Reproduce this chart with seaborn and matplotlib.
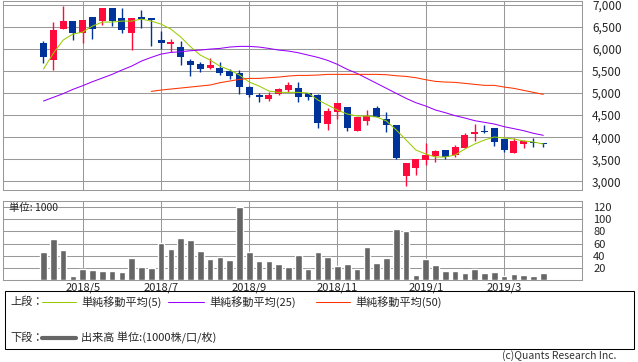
import numpy as np
import pandas as pd
import matplotlib
matplotlib.use("Agg")
import matplotlib.pyplot as plt
import seaborn as sns
from matplotlib.patches import Rectangle
from matplotlib.lines import Line2D

# ---------------- data (weekly) ----------------
weeks = pd.date_range("2018-04-09", periods=52, freq="W-MON")
open_ = [6132, 5755, 6457, 6630, 6358, 6721, 6630, 6925, 6698, 6358,
         6721, 6698, 6200, 6109, 6042, 5725, 5657, 5566, 5566, 5498,
         5453, 5136, 4955, 4864, 4977, 5068, 5113, 5000, 4955, 4298,
         4570, 4683, 4140, 4366, 4660, 4411, 4275, 3121, 3302, 3483,
         3574, 3709, 3596, 3755, 4072, 4140, 4208, 3959, 3642, 3845,
         3891, 3868]
high = [6177, 6608, 6977, 6630, 6653, 6721, 6925, 6925, 6925, 6698,
        6879, 6698, 6404, 6223, 6177, 5770, 5702, 5792, 5702, 5543,
        5521, 5159, 5000, 5023, 5113, 5249, 5249, 5000, 4977, 4660,
        4774, 4683, 4457, 4615, 4706, 4570, 4275, 3415, 3506, 3868,
        3709, 3709, 3823, 4094, 4298, 4275, 4208, 3959, 3981, 3936,
        3981, 3868]
low = [5679, 5528, 6457, 6208, 6132, 6223, 6540, 6517, 6358, 5974,
       6472, 6064, 5989, 5928, 5634, 5385, 5475, 5543, 5413, 5317,
       4983, 4910, 4789, 4819, 4955, 5023, 4796, 4842, 4208, 4162,
       4411, 4140, 4140, 4275, 4457, 4117, 3506, 2894, 3143, 3370,
       3438, 3506, 3551, 3755, 3913, 4102, 3800, 3664, 3642, 3755,
       3777, 3777]
close = [5815, 6426, 6630, 6358, 6653, 6449, 6925, 6638, 6426, 6698,
         6675, 6653, 6132, 6155, 5815, 5634, 5543, 5634, 5453, 5385,
         5136, 4955, 4910, 4955, 5091, 5181, 4910, 4910, 4321, 4593,
         4774, 4208, 4457, 4479, 4457, 4275, 3528, 3415, 3506, 3596,
         3687, 3551, 3777, 4049, 4117, 4117, 3891, 3709, 3913, 3913,
         3868, 3845]
volume = [46, 67, 49, 6.6, 18, 16.4, 14.8, 14.8, 13, 36,
          21, 20, 61, 51, 69, 66, 48, 34.5, 38, 33,
          120, 46, 31, 31, 26, 21, 41, 18, 46, 38,
          23, 26, 18, 54, 28, 36, 84, 80.5, 8, 34.5,
          25, 15, 15, 11.5, 18, 11.5, 13, 6.6, 10, 8,
          6.6, 11.5]
ma5 = [5543, 5898, 6200, 6336, 6381, 6517, 6608, 6608, 6630, 6630,
       6675, 6630, 6562, 6449, 6270, 6050, 5860, 5747, 5611, 5521,
       5408, 5249, 5159, 5045, 5015, 5015, 5015, 5000, 4842, 4728,
       4615, 4525, 4479, 4479, 4457, 4366, 4162, 3936, 3709, 3619,
       3551, 3551, 3596, 3732, 3845, 3936, 4004, 3981, 3959, 3913,
       3891, 3845]
ma25 = [4819, 4902, 4985, 5083, 5166, 5257, 5340, 5423, 5521, 5611,
        5725, 5808, 5883, 5921, 5936, 5959, 5974, 5996, 6011, 6042,
        6057, 6057, 6042, 6011, 5974, 5951, 5913, 5860, 5808, 5740,
        5649, 5536, 5445, 5332, 5219, 5106, 4992, 4879, 4781, 4706,
        4615, 4555, 4487, 4434, 4374, 4336, 4298, 4238, 4193, 4147,
        4087, 4042]
ma50_weeks = weeks[11:]
ma50 = [5038, 5068, 5091, 5113, 5136, 5159, 5181, 5234, 5272, 5309,
        5332, 5332, 5347, 5362, 5385, 5400, 5400, 5408, 5423, 5423,
        5423, 5423, 5423, 5423, 5415, 5392, 5377, 5347, 5302, 5264,
        5249, 5242, 5219, 5196, 5174, 5174, 5136, 5106, 5060, 5015,
        4970]
tick_labels = ["2018/5", "2018/7", "2018/9", "2018/11", "2019/1", "2019/3"]
price_ticks = [3000, 3500, 4000, 4500, 5000, 5500, 6000, 6500, 7000]
vol_ticks = [20, 40, 60, 80, 100, 120]

# ---------------- style ----------------
sns.set_style("white")
plt.rcParams["font.family"] = ["Noto Sans CJK JP", "DejaVu Sans"]

UP, DOWN = "#FF0A3C", "#003399"
C5, C25, C50 = "#99CC00", "#9900FF", "#FF3300"
GRID = "#999999"
LW = 0.75

W, H = 638, 362
fig = plt.figure(figsize=(W / 100, H / 100), dpi=100)


def rect(x0, y0, x1, y1):
    return [x0 / W, 1 - y1 / H, (x1 - x0) / W, (y1 - y0) / H]


ax1 = fig.add_axes(rect(3, 0.5, 582, 190.3))
ax2 = fig.add_axes(rect(3, 201, 582, 280))

idx = np.arange(len(weeks))
pos = {d: i for i, d in enumerate(weeks)}
ma50_idx = np.array([pos[d] for d in ma50_weeks])

# month tick positions: first week of each labelled month
tick_pos = []
for lab in tick_labels:
    y, m = map(int, lab.split("/"))
    tick_pos.append(int(np.argmax((weeks.year == y) & (weeks.month == m))))

o = np.array(open_, float)
c = np.array(close, float)
cols = [UP if cc > oo else DOWN for oo, cc in zip(o, c)]

# ---------------- top: candles ----------------
ax1.vlines(idx, low, high, colors=cols, lw=1.0, zorder=3)
ax1.bar(idx, np.maximum(np.abs(c - o), 14), bottom=np.minimum(o, c), width=0.71,
        color=cols, lw=0, zorder=3)
sns.lineplot(x=idx, y=ma5, ax=ax1, color=C5, lw=LW, estimator=None, sort=False, zorder=4)
sns.lineplot(x=idx, y=ma25, ax=ax1, color=C25, lw=LW, estimator=None, sort=False, zorder=4)
sns.lineplot(x=ma50_idx, y=ma50, ax=ax1, color=C50, lw=LW, estimator=None, sort=False, zorder=4)

xl = (-4.13, 54.95)
ax1.set_xlim(*xl)
ax1.set_ylim(2796, 7097)
ax1.set_xticks(tick_pos)
ax1.set_xticklabels([])
ax1.set_yticks(price_ticks)
ax1.set_yticklabels([f"{v:,}" for v in price_ticks])
ax1.yaxis.tick_right()
ax1.tick_params(axis="both", length=0)
ax1.tick_params(axis="y", pad=7.2, labelsize=8.5)
ax1.grid(True, color=GRID, lw=LW)
ax1.set_axisbelow(True)
ax1.set_xlabel("")
ax1.set_ylabel("")

# ---------------- bottom: volume ----------------
sns.barplot(x=idx, y=volume, ax=ax2, native_scale=True, color="#666666",
            saturation=1, width=0.68, errorbar=None, zorder=3)
ax2.set_xlim(*xl)
ax2.set_ylim(0, 130)
ax2.set_xticks(tick_pos)
ax2.set_xticklabels(tick_labels)
ax2.set_yticks(vol_ticks)
ax2.yaxis.tick_right()
ax2.tick_params(axis="both", length=0)
ax2.tick_params(axis="y", pad=8, labelsize=8)
ax2.tick_params(axis="x", pad=1.5, labelsize=8)
ax2.grid(True, color=GRID, lw=LW)
ax2.set_axisbelow(True)
ax2.set_xlabel("")
ax2.set_ylabel("")
ax2.text(9 / W, 1 - 208 / H, "単位: 1000", transform=fig.transFigure,
         fontsize=7.5, ha="left", va="center")

for ax in (ax1, ax2):
    for s in ax.spines.values():
        s.set_color(GRID)
        s.set_linewidth(LW)
        s.set_visible(True)

# ---------------- legend box ----------------
fig.patches.append(Rectangle((5 / W, 1 - 349 / H), 629 / W, 58 / H,
                             transform=fig.transFigure, fill=False,
                             edgecolor="black", lw=LW))


def fx(x):
    return x / W


def fy(y):
    return 1 - y / H


fs = 8
fig.text(fx(10), fy(302), "上段：", fontsize=fs, va="center", ha="left")
for (x0, x1, col, lab) in [(42, 76, C5, "単純移動平均(5)"),
                           (168, 204, C25, "単純移動平均(25)"),
                           (316, 350, C50, "単純移動平均(50)")]:
    fig.lines.append(Line2D([fx(x0), fx(x1)], [fy(302), fy(302)],
                            transform=fig.transFigure, color=col, lw=LW))
    fig.text(fx(x1 + 5), fy(302), lab, fontsize=fs, va="center", ha="left")
fig.text(fx(10), fy(338), "下段：", fontsize=fs, va="center", ha="left")
fig.lines.append(Line2D([fx(42), fx(76)], [fy(338), fy(338)],
                        transform=fig.transFigure, color="#666666", lw=3))
fig.text(fx(81), fy(338), "出来高 単位:(1000株/口/枚)", fontsize=fs, va="center", ha="left")
fig.text(fx(616), fy(356), "(c)Quants Research Inc.", fontsize=7.5,
         va="center", ha="right", color="#333333")

fig.savefig("out.png", dpi=100)
